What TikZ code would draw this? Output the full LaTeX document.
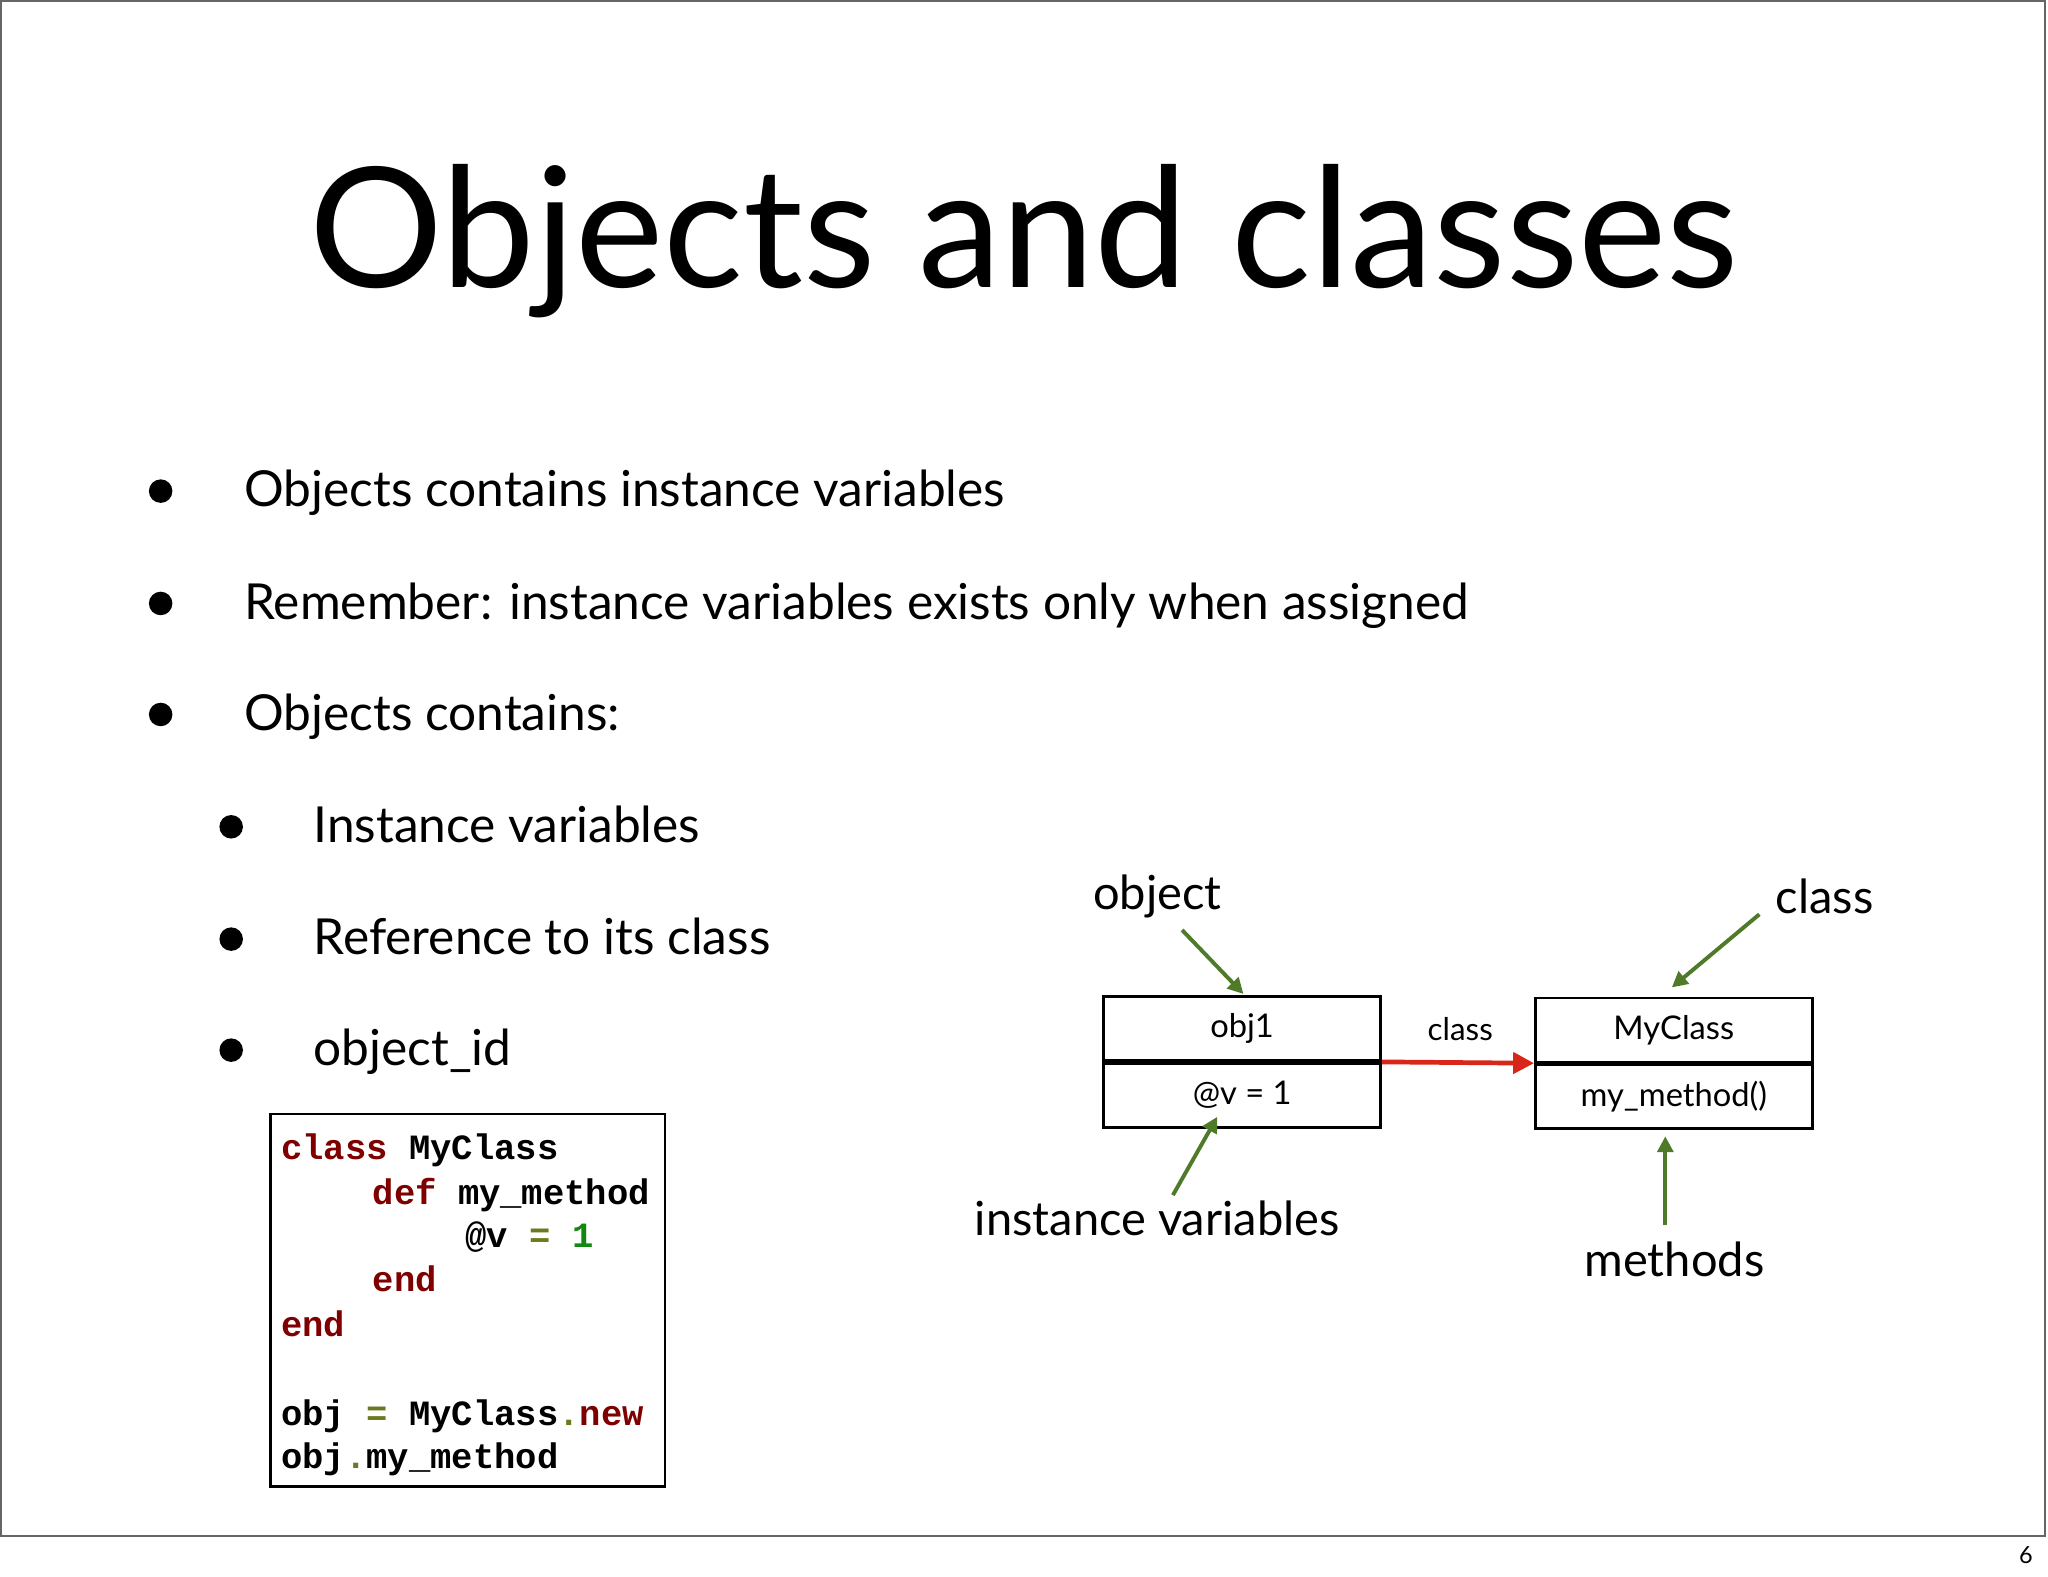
\documentclass[tikz,border=0pt]{standalone}
\usepackage{fontspec}
\setmainfont{Lato}
\setmonofont{Liberation Mono}
\usetikzlibrary{arrows.meta}
\definecolor{kw}{HTML}{7F0000}
\definecolor{num}{HTML}{118811}
\definecolor{op}{HTML}{6B7A1E}
\definecolor{grn}{HTML}{4E7A2A}
\definecolor{red}{HTML}{D8261A}
\tikzset{
  bul/.style={anchor=base west,font=\fontsize{19}{22}\selectfont},
  lbl/.style={font=\fontsize{18}{21}\selectfont},
  cell/.style={draw,line width=1pt,minimum width=106pt,minimum height=24.5pt,inner sep=0pt,font=\fontsize{12.5}{14}\selectfont},
  garrow/.style={draw=grn,line width=1.5pt,-{Triangle[length=6pt,width=6pt]}},
  code/.style={anchor=base west,inner sep=0pt,font=\fontsize{13.6}{15}\selectfont\ttfamily\bfseries},
  dot/.style={circle,fill,inner sep=0pt,minimum size=9pt}
}
\begin{document}
\begin{tikzpicture}[x=0.5pt,y=-0.5pt]
\useasboundingbox (0,0) rectangle (1568,1207);
\fill[white] (0,0) rectangle (1568,1207);
\draw[black!60,line width=0.8pt] (0.5,0.5) rectangle (1566,1176);
\node[anchor=base,font=\small] (pg) at (1551,1197) {6};
\node[anchor=base,font=\fontsize{64}{70}\selectfont] (title) at (784,220) {Objects and classes};
\foreach \y/\t [count=\i] in {388/Objects contains instance variables,474/{Remember: instance variables exists only when assigned},559/Objects contains:}{
  \node[dot] (d\i) at (123,\y-12) {};
  \node[bul] (b\i) at (180,\y) {\t};
}
\foreach \y/\t [count=\i] in {645/Instance variables,731/Reference to its class,816/object\_id}{
  \node[dot] (e\i) at (177,\y-12) {};
  \node[bul] (c\i) at (233,\y) {\t};
}
\draw[line width=1pt] (207,853) rectangle (509,1138);
\node[code] (l1) at (215,888) {\textcolor{kw}{class} MyClass};
\node[code] (l2) at (285,922) {\textcolor{kw}{def} my\_method};
\node[code] (l3) at (356,955) {@v \textcolor{op}{=} \textcolor{num}{1}};
\node[code] (l4) at (285,989) {\textcolor{kw}{end}};
\node[code] (l5) at (215,1023) {\textcolor{kw}{end}};
\node[code] (l6) at (215,1091) {obj \textcolor{op}{=} MyClass\textcolor{op}{.}\textcolor{kw}{new}};
\node[code] (l7) at (215,1124) {obj\textcolor{op}{.}my\_method};
\node[cell] (o1) at (951,787.5) {obj1};
\node[cell,anchor=north] (o2) at (o1.south) {@v = 1};
\node[cell] (m1) at (1281.5,788.5) {MyClass};
\node[cell,anchor=north] (m2) at (m1.south) {my\_method()};
\node[lbl] (lobj) at (886,686) {object};
\node[lbl] (lcls) at (1397,686) {class};
\node[lbl] (liv) at (886,933) {instance variables};
\node[lbl] (lmeth) at (1282,964) {methods};
\node[font=\fontsize{12}{14}\selectfont] (lc) at (1118,788) {class};
\coordinate (a1s) at (905,712); \coordinate (a2s) at (1347,700);
\coordinate (a3s) at (898,915); \coordinate (a4s) at (1275,938);
\draw[garrow] (a1s) -- (952,761);
\draw[garrow] (a2s) -- (1280,756);
\draw[garrow] (a3s) -- (932,855);
\draw[garrow] (a4s) -- (1275,870);
\draw[red,line width=1.8pt,-{Triangle[length=8pt,width=8pt]}] (o1.south east) -- (m1.south west);
\end{tikzpicture}
\end{document}
